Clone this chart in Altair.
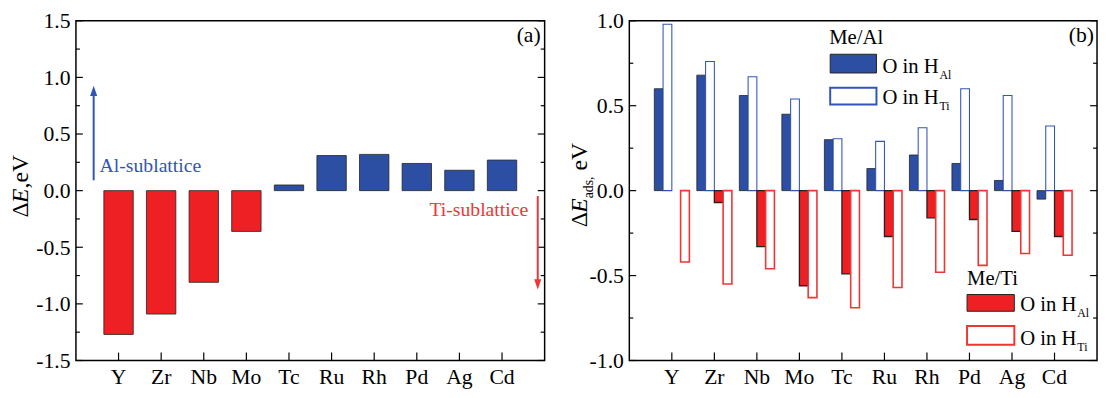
import altair as alt
import pandas as pd

# ---------------- data ----------------
elements = ["Y", "Zr", "Nb", "Mo", "Tc", "Ru", "Rh", "Pd", "Ag", "Cd"]

# panel (a): segregation energy
delta_e = [-1.27, -1.09, -0.81, -0.36, 0.05, 0.31, 0.32, 0.24, 0.18, 0.27]

# panel (b): adsorption energies
me_al_o_hal = [0.60, 0.68, 0.56, 0.45, 0.30, 0.13, 0.21, 0.16, 0.06, -0.05]
me_al_o_hti = [0.98, 0.76, 0.67, 0.54, 0.305, 0.29, 0.37, 0.60, 0.56, 0.38]
me_ti_o_hal = [None, -0.07, -0.33, -0.56, -0.49, -0.27, -0.16, -0.17, -0.24, -0.27]
me_ti_o_hti = [-0.42, -0.55, -0.46, -0.63, -0.69, -0.57, -0.48, -0.44, -0.37, -0.38]

series_names = ["Me/Al O in HAl", "Me/Al O in HTi", "Me/Ti O in HAl", "Me/Ti O in HTi"]
series_values = [me_al_o_hal, me_al_o_hti, me_ti_o_hal, me_ti_o_hti]

left_y_major = [-1.5, -1.0, -0.5, 0.0, 0.5, 1.0, 1.5]
left_y_minor = [-1.25, -0.75, -0.25, 0.25, 0.75, 1.25]
right_y_major = [-1.0, -0.5, 0.0, 0.5, 1.0]
right_y_minor = [-0.75, -0.25, 0.25, 0.75]

# ---------------- style ----------------
FONT = "Liberation Serif"
BLUE = "#2D4FA3"
RED = "#EE2024"
BLUE_LINE = "#3155B6"
RED_LINE = "#F03535"
DARK = "#222222"

W1, W2, H = 476, 475, 345
MAJOR, MINOR = 7, 4

label_expr = "(datum.value < 0 ? '-' : '') + format(abs(datum.value), '.1f')"

X_AXIS = alt.Axis(orient="bottom", ticks=False, domain=False, labelAngle=0,
                  labelPadding=6, title=None, grid=False)


def y_axis(values):
    return alt.Axis(orient="left", values=values, labelExpr=label_expr, ticks=False,
                    domain=False, grid=False, labelPadding=6, title=None)


def text(t, x, y, size=20, color="black", italic=False, align="left", angle=0):
    return alt.Chart(pd.DataFrame({"t": [t]})).mark_text(
        font=FONT, fontSize=size, color=color, align=align, baseline="alphabetic",
        angle=angle, fontStyle="italic" if italic else "normal"
    ).encode(text="t:N", x=alt.value(x), y=alt.value(y))


def rect(x, x2, y, y2, fill, stroke, sw):
    return alt.Chart(pd.DataFrame({"a": [0]})).mark_rect(
        fill=fill, stroke=stroke, strokeWidth=sw
    ).encode(x=alt.value(x), x2=alt.value(x2), y=alt.value(y), y2=alt.value(y2))


def arrow(x, y_tail, y_head_line, y_head, color, up=True):
    line = alt.Chart(pd.DataFrame({"a": [0]})).mark_rule(color=color, strokeWidth=2).encode(
        x=alt.value(x), y=alt.value(y_tail), y2=alt.value(y_head_line))
    shape = "M0,-1.3L0.9,1.3L-0.9,1.3Z" if up else "M0,1.3L0.9,-1.3L-0.9,-1.3Z"
    head = alt.Chart(pd.DataFrame({"a": [0]})).mark_point(
        shape=shape, filled=True, size=64, color=color, opacity=1, strokeWidth=0
    ).encode(x=alt.value(x), y=alt.value(y_head))
    return line + head


def frame_ticks(yscale, yaxis, major, minor, w, xscale):
    """Inward ticks on the left, right and bottom edges of a panel."""
    layers = []
    for vals, size in ((major, MAJOR), (minor, MINOR)):
        d = pd.DataFrame({"v": vals})
        for x0, x1 in ((0, size), (w, w - size)):
            layers.append(alt.Chart(d).mark_rule(color="black", strokeWidth=1.2).encode(
                y=alt.Y("v:Q", scale=yscale, axis=yaxis),
                x=alt.value(x0), x2=alt.value(x1)))
    d = pd.DataFrame({"element": elements})
    layers.append(alt.Chart(d).mark_rule(color="black", strokeWidth=1.2).encode(
        x=alt.X("element:N", sort=elements, scale=xscale, axis=X_AXIS),
        y=alt.value(H), y2=alt.value(H - 8)))
    return layers


# ---------------- panel (a) ----------------
df_left = pd.DataFrame({"element": elements, "dE": delta_e})
df_left["side"] = ["Ti" if v < 0 else "Al" for v in delta_e]

x_left = alt.Scale(domain=elements, paddingInner=0.31, paddingOuter=0.655)
y_left = alt.Scale(domain=[-1.5, 1.5], nice=False)
y_axis_left = y_axis(left_y_major)

bars_left = alt.Chart(df_left).mark_bar(stroke=DARK, strokeWidth=0.8).encode(
    x=alt.X("element:N", sort=elements, scale=x_left, axis=X_AXIS),
    y=alt.Y("dE:Q", scale=y_left, axis=y_axis_left),
    fill=alt.Fill("side:N", scale=alt.Scale(domain=["Al", "Ti"], range=[BLUE, RED]), legend=None),
)

left = alt.layer(
    bars_left,
    *frame_ticks(y_left, y_axis_left, left_y_major, left_y_minor, W1, x_left),
    text("Al-sublattice", 24, 153.5, size=20, color=BLUE_LINE),
    arrow(18, 162, 72, 71.2, BLUE_LINE, up=True),
    text("Ti-sublattice", 359, 198, size=20, color=RED_LINE),
    arrow(469, 178, 267, 267.8, RED_LINE, up=False),
    text("(a)", 472, 22, size=22, align="right"),
    text("\u0394", -49, 199.7, size=24, angle=270),
    text("E", -49, 185, size=24, italic=True, angle=270),
    text(",eV", -49, 170.3, size=24, angle=270),
).properties(width=W1, height=H)

# ---------------- panel (b) ----------------
rows = []
for name, vals in zip(series_names, series_values):
    for el, v in zip(elements, vals):
        if v is not None:
            rows.append({"element": el, "series": name, "val": v})
df_right = pd.DataFrame(rows)

x_right = alt.Scale(domain=elements, paddingInner=0.175, paddingOuter=0.5875)
y_right = alt.Scale(domain=[-1.0, 1.0], nice=False)
y_axis_right = y_axis(right_y_major)

bars_right = alt.Chart(df_right).mark_bar().encode(
    x=alt.X("element:N", sort=elements, scale=x_right, axis=X_AXIS),
    xOffset=alt.XOffset("series:N", sort=series_names,
                        scale=alt.Scale(domain=series_names, paddingInner=0, paddingOuter=0)),
    y=alt.Y("val:Q", scale=y_right, axis=y_axis_right),
    fill=alt.Fill("series:N", scale=alt.Scale(domain=series_names,
                                              range=[BLUE, "white", RED, "white"]), legend=None),
    stroke=alt.Stroke("series:N", scale=alt.Scale(domain=series_names,
                                                  range=[DARK, BLUE_LINE, DARK, RED_LINE]), legend=None),
    strokeWidth=alt.StrokeWidth("series:O", scale=alt.Scale(domain=series_names,
                                                            range=[0.8, 1.6, 0.8, 1.6]), legend=None),
)

right = alt.layer(
    bars_right,
    *frame_ticks(y_right, y_axis_right, right_y_major, right_y_minor, W2, x_right),
    # legend Me/Al
    text("Me/Al", 203, 24, size=21),
    rect(204, 251, 34, 53, BLUE, DARK, 1),
    rect(204, 251, 68, 85, "white", BLUE_LINE, 2),
    text("O in H", 257, 53, size=21),
    text("Al", 315, 59, size=12),
    text("O in H", 257, 85, size=21),
    text("Ti", 315, 91, size=12),
    # legend Me/Ti
    text("Me/Ti", 343, 268, size=21),
    rect(343, 391, 278, 295, RED, DARK, 1),
    rect(343, 391, 310, 329, "white", RED_LINE, 2),
    text("O in H", 397, 295, size=21),
    text("Al", 455, 301, size=12),
    text("O in H", 397, 329, size=21),
    text("Ti", 455, 335, size=12),
    text("(b)", 472, 22, size=22, align="right"),
    # axis title
    text("\u0394", -43, 209.7, size=24, angle=270),
    text("E", -43, 195, size=24, italic=True, angle=270),
    text("ads,", -37, 180.3, size=14, angle=270),
    text("eV", -43, 152, size=24, angle=270),
).properties(width=W2, height=H)

chart = alt.hconcat(left, right, spacing=21).resolve_scale(
    fill="independent", stroke="independent", strokeWidth="independent"
).properties(
    padding={"left": 0, "top": -2, "right": 0, "bottom": 0}
).configure_view(stroke="black", strokeWidth=1.5).configure_axis(
    labelFont=FONT, labelFontSize=22, labelColor="black"
)

chart.save("out.html", embed_options={"renderer": "svg", "actions": False})
